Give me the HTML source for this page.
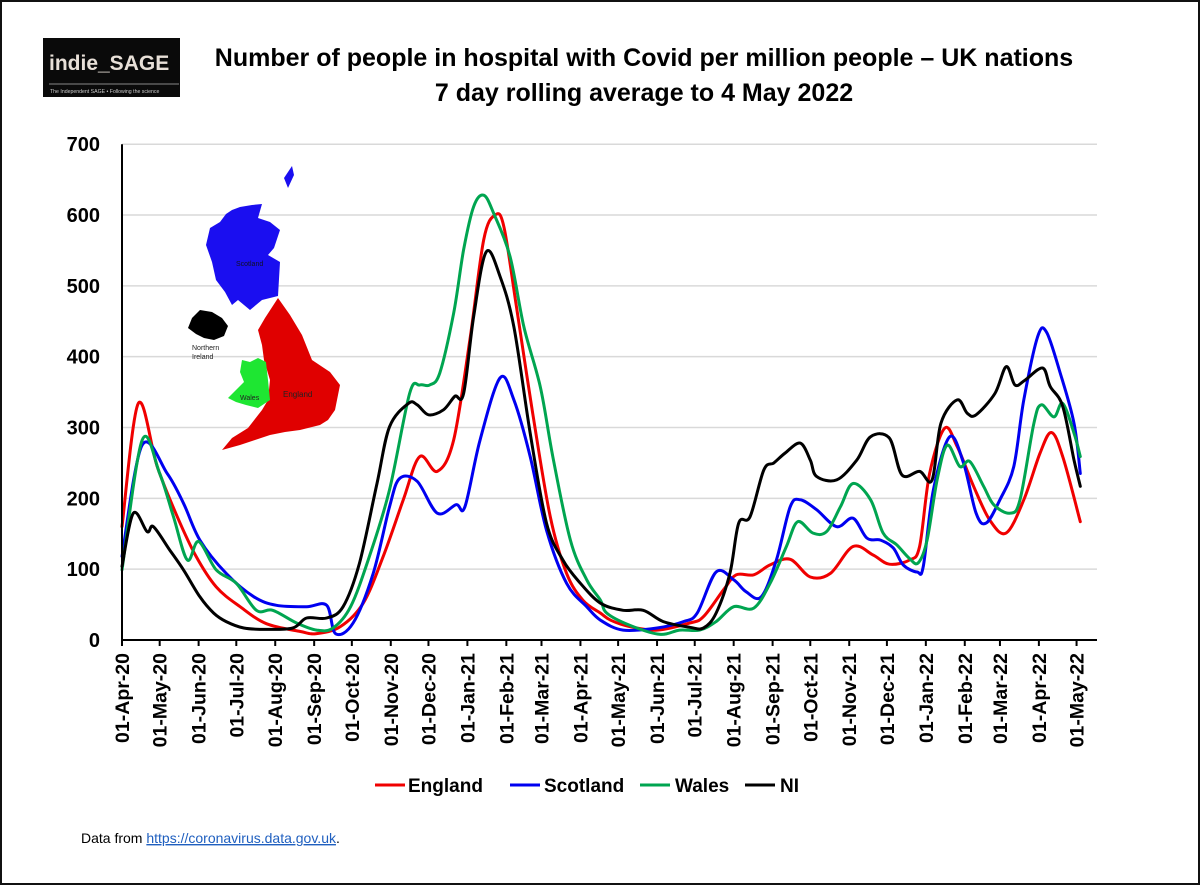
<!DOCTYPE html>
<html><head><meta charset="utf-8">
<style>
html,body{margin:0;padding:0;background:#fff}
body{width:1200px;height:885px;position:relative;overflow:hidden;font-family:"Liberation Sans",sans-serif}
#frame{position:absolute;left:0;top:0;width:1196px;height:881px;border:2px solid #111}
</style></head>
<body>
<div id="frame"></div>
<svg id="chart" width="1200" height="885" style="position:absolute;left:0;top:0">
  <g>
    <rect x="43" y="38" width="137" height="59" fill="#0a0a0a"/>
    <text x="49" y="70" fill="#e8e0d8" font-size="21" font-weight="bold" font-family="Liberation Sans, sans-serif">indie_SAGE</text>
    <line x1="49" y1="84" x2="179" y2="84" stroke="#888" stroke-width="1"/>
    <text x="50" y="93" fill="#ccc" font-size="5.2" font-family="Liberation Sans, sans-serif">The Independent SAGE • Following the science</text>
  </g>
  <text x="644" y="66" text-anchor="middle" font-size="25" font-weight="bold" fill="#000">Number of people in hospital with Covid per million people – UK nations</text>
  <text x="644" y="101" text-anchor="middle" font-size="25" font-weight="bold" fill="#000">7 day rolling average to 4 May 2022</text>
  <g id="grid"></g>
  <g id="map">
    <polygon fill="#1a0ef0" points="240,207 252,205 262,204 258,218 270,222 280,230 274,248 268,255 280,262 278,296 262,300 250,310 238,300 232,305 225,292 216,280 212,262 206,245 210,228 220,222 226,214 232,210"/>
    <polygon fill="#1a0ef0" points="284,178 292,166 294,175 288,188"/>
    <polygon fill="#000" points="192,318 200,310 212,312 222,318 228,326 224,336 214,340 204,338 196,334 188,328"/>
    <text x="192" y="350" font-size="7" fill="#222">Northern</text>
    <text x="192" y="359" font-size="7" fill="#222">Ireland</text>
    <polygon fill="#e00000" points="278,298 290,315 302,335 312,360 330,372 340,385 335,410 328,420 320,425 300,430 285,432 270,435 255,440 240,445 222,450 232,438 248,428 262,410 268,400 270,380 264,360 262,345 258,330 265,318"/>
    <polygon fill="#1ee632" points="242,360 250,362 258,358 266,362 268,380 270,400 258,408 246,405 236,402 228,398 236,390 244,382 240,372"/>
    <text x="283" y="397" font-size="8" fill="#222">England</text>
    <text x="240" y="400" font-size="7" fill="#222">Wales</text>
    <text x="236" y="266" font-size="7" fill="#112">Scotland</text>
  </g>
  <g id="series"></g>
  <g id="axes"></g>
  <g>
    <g><line x1="375" y1="785" x2="405" y2="785" stroke="#f00000" stroke-width="3"/><text x="408" y="792" font-size="19" font-weight="bold">England</text></g>
    <g><line x1="510" y1="785" x2="540" y2="785" stroke="#0000f0" stroke-width="3"/><text x="544" y="792" font-size="19" font-weight="bold">Scotland</text></g>
    <g><line x1="640" y1="785" x2="670" y2="785" stroke="#00a550" stroke-width="3"/><text x="675" y="792" font-size="19" font-weight="bold">Wales</text></g>
    <g><line x1="745" y1="785" x2="775" y2="785" stroke="#000" stroke-width="3"/><text x="780" y="792" font-size="19" font-weight="bold">NI</text></g>
  </g>
  <text x="81" y="843" font-size="14" fill="#000">Data from <tspan fill="#1f5fbf" text-decoration="underline">https://coronavirus.data.gov.uk</tspan>.</text>
</svg>
<script>
const yTicks=[0,100,200,300,400,500,600,700];
const xTickLabels=["01-Apr-20","01-May-20","01-Jun-20","01-Jul-20","01-Aug-20","01-Sep-20","01-Oct-20","01-Nov-20","01-Dec-20","01-Jan-21","01-Feb-21","01-Mar-21","01-Apr-21","01-May-21","01-Jun-21","01-Jul-21","01-Aug-21","01-Sep-21","01-Oct-21","01-Nov-21","01-Dec-21","01-Jan-22","01-Feb-22","01-Mar-22","01-Apr-22","01-May-22"];
// days since 01-Apr-2020
const englandDays=[0,13,28,44,59,75,94,115,142,155,174,192,208,224,237,251,264,277,288,297,304,314,327,341,354,367,381,389,404,426,452,463,479,489,503,516,532,548,564,582,598,611,627,635,643,655,665,678,691,704,718,731,740,749,763];
const englandVals=[160,334,245,174,118,75,47,23,12,9,19,52,118,198,259,238,282,424,565,600,584,471,320,174,94,56,38,28,19,14,24,33,71,92,92,106,114,89,94,132,120,107,113,132,235,299,273,217,169,151,198,264,293,259,167];
const scotlandDays=[0,16,36,49,62,83,105,123,147,163,170,184,200,213,221,235,251,266,273,285,301,312,325,338,354,370,381,399,426,447,458,473,487,497,509,521,532,540,553,569,582,593,604,614,622,633,638,646,659,670,680,688,699,710,718,729,736,747,758,763];
const scotlandVals=[118,275,235,193,141,94,61,49,47,49,9,24,94,188,228,224,179,191,188,282,370,339,259,155,80,47,28,14,17,26,38,96,85,68,61,113,188,198,184,160,172,144,141,130,106,96,104,212,287,250,179,165,198,245,339,428,435,377,306,235];
const walesDays=[0,16,30,41,52,61,75,91,107,120,139,155,168,182,197,213,229,237,245,253,264,272,280,288,296,309,320,333,343,357,370,381,386,404,428,444,460,473,487,503,516,529,538,550,561,572,582,596,606,617,627,634,641,649,657,667,675,686,694,707,715,726,732,742,749,758,763];
const walesVals=[99,282,235,174,113,139,99,80,42,42,24,14,17,47,118,212,348,360,360,377,461,551,612,628,602,541,442,358,259,141,85,56,38,21,8,14,14,26,47,45,80,132,167,151,153,188,221,198,151,134,115,109,141,226,275,245,252,217,191,179,198,306,332,315,334,292,259];
const niDays=[0,9,20,25,38,49,62,73,83,97,115,136,147,163,176,189,203,213,228,235,244,256,265,272,280,290,301,312,325,338,351,365,381,399,415,431,452,463,473,484,491,500,511,519,528,540,548,553,569,585,596,611,621,635,645,652,665,673,680,695,704,711,719,733,739,749,758,763];
const niVals=[104,179,153,160,127,99,61,38,26,17,15,17,31,31,47,108,221,301,334,332,318,325,344,348,457,548,513,442,292,165,113,80,52,42,42,26,18,17,38,94,165,174,240,250,264,278,254,231,226,254,287,285,233,238,226,306,339,320,318,348,386,360,367,384,358,330,254,217,169];

const X0=122, PXD=1.256, Y0=640, PXV=0.7083;
const xs=d=>X0+d*PXD;
const ys=v=>Y0-v*PXV;
const NS="http://www.w3.org/2000/svg";
function mk(tag,attrs,parent){const e=document.createElementNS(NS,tag);for(const k in attrs)e.setAttribute(k,attrs[k]);parent.appendChild(e);return e;}
const grid=document.getElementById('grid'),axes=document.getElementById('axes'),series=document.getElementById('series');
yTicks.forEach(v=>{
  if(v>0){const g=mk('line',{x1:X0,x2:1097,y1:ys(v),y2:ys(v),stroke:'#d9d9d9','stroke-width':1.5},grid);
  
  }
  const t=mk('text',{x:100,y:ys(v)+7,'text-anchor':'end','font-size':20,'font-weight':'bold'},axes);
  t.textContent=v;
  
  
});
const ya=mk('line',{x1:X0,x2:X0,y1:ys(700),y2:Y0+1,stroke:'#000','stroke-width':2},axes);


const xa=mk('line',{x1:X0-1,x2:1097,y1:Y0,y2:Y0,stroke:'#000','stroke-width':2},axes);


xTickLabels.forEach((lab,i)=>{
  const y=2020+Math.floor((3+i)/12), m=(3+i)%12;
  const d=(Date.UTC(y,m,1)-Date.UTC(2020,3,1))/86400000;
  const x=xs(d);
  const tk=mk('line',{x1:x,x2:x,y1:Y0,y2:Y0+6,stroke:'#000','stroke-width':2},axes);
  
  
  const t=mk('text',{x:0,y:0,'text-anchor':'end','font-size':19.5,'font-weight':'bold',transform:`translate(${x+7},653) rotate(-90)`},axes);
  t.textContent=lab;
  
  
});
function line(days,vals,color,name){
  const P=days.map((d,i)=>[xs(d),ys(vals[i])]);
  let s='M'+P[0][0].toFixed(1)+','+P[0][1].toFixed(1);
  for(let i=0;i<P.length-1;i++){
    const p0=P[Math.max(0,i-1)],p1=P[i],p2=P[i+1],p3=P[Math.min(P.length-1,i+2)];
    const c1=[p1[0]+(p2[0]-p0[0])/6,p1[1]+(p2[1]-p0[1])/6];
    const c2=[p2[0]-(p3[0]-p1[0])/6,p2[1]-(p3[1]-p1[1])/6];
    s+=` C${c1[0].toFixed(1)},${c1[1].toFixed(1)} ${c2[0].toFixed(1)},${c2[1].toFixed(1)} ${p2[0].toFixed(1)},${p2[1].toFixed(1)}`;
  }
  const p=mk('path',{d:s,fill:'none',stroke:color,'stroke-width':3,'stroke-linejoin':'round','stroke-linecap':'round'},series);
  
  
}
line(englandDays,englandVals,'#f00000','series-england');
line(scotlandDays,scotlandVals,'#0000f0','series-scotland');
line(walesDays,walesVals,'#00a550','series-wales');
line(niDays,niVals,'#000000','series-ni');
</script>
</body></html>
